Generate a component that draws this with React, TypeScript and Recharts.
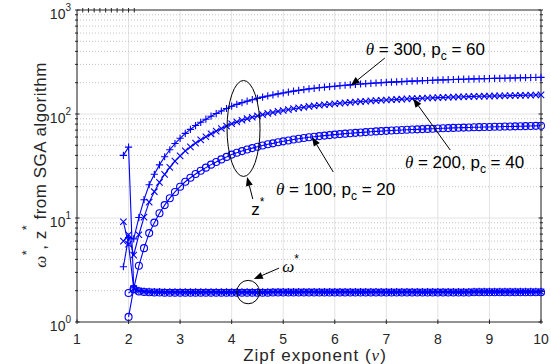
import React from "react";
import { LineChart, Line, XAxis, YAxis, CartesianGrid, ReferenceLine } from "recharts";

// Zipf exponent grid (nu)
const NU = [
  1.9, 2.0, 2.1, 2.2, 2.3, 2.4, 2.5, 2.6, 2.7, 2.8, 2.9,
  3.0, 3.1, 3.2, 3.3, 3.4, 3.5, 3.6, 3.7, 3.8, 3.9,
  4.0, 4.1, 4.2, 4.3, 4.4, 4.5, 4.6, 4.7, 4.8, 4.9,
  5.0, 5.1, 5.2, 5.3, 5.4, 5.5, 5.6, 5.7, 5.8, 5.9,
  6.0, 6.1, 6.2, 6.3, 6.4, 6.5, 6.6, 6.7, 6.8, 6.9,
  7.0, 7.1, 7.2, 7.3, 7.4, 7.5, 7.6, 7.7, 7.8, 7.9,
  8.0, 8.1, 8.2, 8.3, 8.4, 8.5, 8.6, 8.7, 8.8, 8.9,
  9.0, 9.1, 9.2, 9.3, 9.4, 9.5, 9.6, 9.7, 9.8, 9.9, 10.0,
];

// z* for theta = 100, p_c = 20 (circles)
const Z100 = [
  null, 1.12, 2.09, 3.47, 5.13, 7.16, 9.02, 11.1, 13.3, 15.5, 17.8,
  20.0, 22.3, 24.4, 26.5, 28.5, 30.5, 32.6, 34.6, 36.6, 38.7,
  40.7, 42.4, 44.0, 45.5, 47.0, 48.4, 49.8, 51.1, 52.2, 53.5,
  54.6, 55.7, 56.8, 57.8, 58.7, 59.7, 60.5, 61.3, 62.0, 62.7,
  63.4, 64.1, 64.7, 65.3, 65.9, 66.5, 67.0, 67.5, 68.0, 68.5,
  68.9, 69.3, 69.7, 70.1, 70.5, 70.9, 71.2, 71.6, 71.9, 72.2,
  72.6, 72.9, 73.2, 73.5, 73.7, 74.0, 74.2, 74.5, 74.7, 74.9,
  75.1, 75.3, 75.5, 75.7, 75.9, 76.1, 76.3, 76.5, 76.7, 76.9, 77.1,
];

// z* for theta = 200, p_c = 40 (x marks)
const Z200 = [
  6.0, 6.9, 4.4, 6.9, 10.2, 14.2, 17.9, 22.0, 26.3, 30.7, 35.2,
  39.6, 44.2, 48.3, 52.5, 56.4, 60.4, 64.5, 68.5, 72.5, 76.6,
  80.6, 84.0, 87.1, 90.1, 93.1, 95.8, 98.6, 101.2, 103.4, 105.9,
  108.1, 110.3, 112.5, 114.4, 116.2, 118.2, 119.8, 121.4, 122.8, 124.1,
  125.5, 126.9, 128.1, 129.3, 130.5, 131.7, 132.7, 133.7, 134.6, 135.6,
  136.4, 137.2, 138.0, 138.8, 139.6, 140.4, 141.0, 141.8, 142.4, 143.0,
  143.7, 144.3, 144.9, 145.5, 145.9, 146.5, 146.9, 147.5, 147.9, 148.3,
  148.7, 149.1, 149.5, 149.9, 150.3, 150.7, 151.1, 151.5, 151.9, 152.3, 152.7,
];

// z* for theta = 300, p_c = 60 (plus marks)
const Z300 = [
  3.4, 6.5, 6.3, 10.1, 15.0, 20.9, 26.3, 32.4, 38.8, 45.3, 52.0,
  58.4, 65.1, 71.2, 77.4, 83.2, 89.1, 95.2, 101.0, 106.9, 113.0,
  118.8, 123.8, 128.5, 132.9, 137.2, 141.3, 145.4, 149.2, 152.4, 156.2,
  159.4, 162.6, 165.9, 168.8, 171.4, 174.3, 176.7, 179.0, 181.0, 183.1,
  185.1, 187.2, 188.9, 190.7, 192.4, 194.2, 195.6, 197.1, 198.6, 200.0,
  201.2, 202.4, 203.5, 204.7, 205.9, 207.0, 207.9, 209.1, 209.9, 210.8,
  212.0, 212.9, 213.7, 214.6, 215.2, 216.1, 216.7, 217.5, 218.1, 218.7,
  219.3, 219.9, 220.5, 221.0, 221.6, 222.2, 222.8, 223.4, 224.0, 224.5, 225.1,
];

// omega* for the three settings
const W100 = [
  null, 1.90, 2.06, 1.97, 1.94, 1.93, 1.92, 1.92, 1.91, 1.91, 1.91,
  1.91, 1.91, 1.91, 1.91, 1.91, 1.91, 1.91, 1.91, 1.91, 1.91,
  1.91, 1.91, 1.91, 1.91, 1.91, 1.91, 1.91, 1.91, 1.92, 1.92,
  1.92, 1.92, 1.92, 1.92, 1.92, 1.92, 1.92, 1.92, 1.92, 1.92,
  1.92, 1.92, 1.92, 1.92, 1.92, 1.92, 1.92, 1.92, 1.92, 1.92,
  1.92, 1.92, 1.92, 1.92, 1.92, 1.92, 1.92, 1.92, 1.92, 1.92,
  1.92, 1.92, 1.92, 1.92, 1.92, 1.92, 1.92, 1.93, 1.93, 1.93,
  1.93, 1.93, 1.93, 1.93, 1.93, 1.93, 1.93, 1.93, 1.93, 1.93, 1.93,
];
const W200 = [
  9.2, 5.6, 2.10, 1.99, 1.96, 1.95, 1.94, 1.94, 1.93, 1.93, 1.93,
  1.93, 1.93, 1.93, 1.93, 1.93, 1.93, 1.93, 1.93, 1.93, 1.93,
  1.93, 1.93, 1.93, 1.93, 1.93, 1.93, 1.93, 1.93, 1.94, 1.94,
  1.94, 1.94, 1.94, 1.94, 1.94, 1.94, 1.94, 1.94, 1.94, 1.94,
  1.94, 1.94, 1.94, 1.94, 1.94, 1.94, 1.94, 1.94, 1.94, 1.94,
  1.94, 1.94, 1.94, 1.94, 1.94, 1.94, 1.94, 1.94, 1.94, 1.94,
  1.94, 1.94, 1.94, 1.94, 1.94, 1.94, 1.94, 1.95, 1.95, 1.95,
  1.95, 1.95, 1.95, 1.95, 1.95, 1.95, 1.95, 1.95, 1.95, 1.95, 1.95,
];
const W300 = [
  40, 48, 2.12, 2.01, 1.98, 1.97, 1.96, 1.96, 1.95, 1.95, 1.95,
  1.95, 1.95, 1.95, 1.95, 1.95, 1.95, 1.95, 1.95, 1.95, 1.95,
  1.95, 1.95, 1.95, 1.95, 1.95, 1.95, 1.95, 1.95, 1.96, 1.96,
  1.96, 1.96, 1.96, 1.96, 1.96, 1.96, 1.96, 1.96, 1.96, 1.96,
  1.96, 1.96, 1.96, 1.96, 1.96, 1.96, 1.96, 1.96, 1.96, 1.96,
  1.96, 1.96, 1.96, 1.96, 1.96, 1.96, 1.96, 1.96, 1.96, 1.96,
  1.96, 1.96, 1.96, 1.96, 1.96, 1.96, 1.96, 1.97, 1.97, 1.97,
  1.97, 1.97, 1.97, 1.97, 1.97, 1.97, 1.97, 1.97, 1.97, 1.97, 1.97,
];

const X_TICKS = [1, 2, 3, 4, 5, 6, 7, 8, 9, 10];
const Y_MAJOR = [1, 10, 100, 1000];
const Y_MINOR = [2, 3, 4, 5, 6, 7, 8, 9, 20, 30, 40, 50, 60, 70, 80, 90, 200, 300, 400, 500, 600, 700, 800, 900];
const Y_TICKS = [...Y_MAJOR, ...Y_MINOR].sort((a, b) => a - b);

const rows = NU.map((nu, i) => ({
  nu,
  z100: Z100[i],
  z200: Z200[i],
  z300: Z300[i],
  w100: W100[i],
  w200: W200[i],
  w300: W300[i],
}));

// the chart covers the whole window (placed absolutely at the page corner)
const W = 551;
const H = 364;
const PL = 77;
const PR = 541;
const PT = 10;
const PB = 322;
const BLUE = "#0000ff";
const AXIS = "#262626";
const FONT = "'Liberation Sans', Arial, sans-serif";
const SERIF = "'Liberation Serif', 'DejaVu Serif', serif";

// data -> pixel, for annotations only
const sx = (nu: number) => PL + ((nu - 1) / 9) * (PR - PL);
const sy = (v: number) => PB - (Math.log10(v) / 3) * (PB - PT);

const plusDot = (p: any) => {
  const { cx, cy, index } = p;
  if (cx == null || cy == null || isNaN(cy)) return <g key={`p${index}`} />;
  const s = 3.6;
  return (
    <path key={`p${index}`} d={`M${cx - s},${cy}H${cx + s}M${cx},${cy - s}V${cy + s}`} stroke={BLUE} strokeWidth={1.1} fill="none" />
  );
};
const crossDot = (p: any) => {
  const { cx, cy, index } = p;
  if (cx == null || cy == null || isNaN(cy)) return <g key={`x${index}`} />;
  const s = 3.2;
  return (
    <path key={`x${index}`} d={`M${cx - s},${cy - s}L${cx + s},${cy + s}M${cx - s},${cy + s}L${cx + s},${cy - s}`} stroke={BLUE} strokeWidth={1.1} fill="none" />
  );
};
const circleDot = (p: any) => {
  const { cx, cy, index } = p;
  if (cx == null || cy == null || isNaN(cy)) return <g key={`o${index}`} />;
  return <circle key={`o${index}`} cx={cx} cy={cy} r={3.5} stroke={BLUE} strokeWidth={1.1} fill="none" />;
};

const BottomTick = ({ x, y, payload }: any) => (
  <g>
    <line x1={x} x2={x} y1={y} y2={y - 4.5} stroke={AXIS} />
    <text x={x} y={y + 19.5} textAnchor="middle" fontSize={14} fill={AXIS} fontFamily={FONT}>
      {payload.value}
    </text>
  </g>
);
const TopTick = ({ x, y }: any) => <line x1={x} x2={x} y1={y} y2={y + 4.5} stroke={AXIS} />;
const LeftTick = ({ x, y, payload }: any) => {
  const v = payload.value;
  const major = Y_MAJOR.includes(v);
  return (
    <g>
      <line x1={x} x2={x + (major ? 4.5 : 3)} y1={y} y2={y} stroke={AXIS} />
      {major && (
        <text x={x - 4} y={y + 9} textAnchor="end" fontSize={14} fill={AXIS} fontFamily={FONT}>
          10
          <tspan dy={-8} fontSize={10}>
            {Math.round(Math.log10(v))}
          </tspan>
        </text>
      )}
    </g>
  );
};
const RightTick = ({ x, y, payload }: any) => {
  const major = Y_MAJOR.includes(payload.value);
  return <line x1={x} x2={x - (major ? 4.5 : 3)} y1={y} y2={y} stroke={AXIS} />;
};

function Arrow({ from, to }: { from: [number, number]; to: [number, number] }) {
  const x1 = sx(from[0]);
  const y1 = sy(from[1]);
  const x2 = sx(to[0]);
  const y2 = sy(to[1]);
  const a = Math.atan2(y2 - y1, x2 - x1);
  const L = 9;
  const hw = 3.5;
  const bx = x2 - L * Math.cos(a);
  const by = y2 - L * Math.sin(a);
  const px = -Math.sin(a) * hw;
  const py = Math.cos(a) * hw;
  return (
    <g>
      <line x1={x1} y1={y1} x2={bx} y2={by} stroke="#000" strokeWidth={1} />
      <polygon points={`${x2},${y2} ${bx + px},${by + py} ${bx - px},${by - py}`} fill="#000" />
    </g>
  );
}

function ThetaLabel({ at, theta, pc }: { at: [number, number]; theta: number; pc: number }) {
  return (
    <text x={sx(at[0])} y={sy(at[1])} fontSize={17} fontFamily={FONT} fill="#000">
      <tspan fontFamily={SERIF} fontStyle="italic">θ</tspan>
      {` = ${theta}, p`}
      <tspan dy={5} fontSize={12}>c</tspan>
      <tspan dy={-5}>{` = ${pc}`}</tspan>
    </text>
  );
}

export default function App() {
  return (
    <div style={{ position: "absolute", left: 0, top: 0, width: W, height: H, overflow: "hidden" }}>
      <LineChart width={W} height={H} data={rows} margin={{ top: 9, right: 9, bottom: 0, left: 0 }}>
        <CartesianGrid horizontal={false} stroke="#e3e3e3" />
        {Y_MINOR.map((v) => (
          <ReferenceLine key={`m${v}`} y={v} stroke="#c4c4c4" strokeDasharray="1 2" />
        ))}
        {[10, 100].map((v) => (
          <ReferenceLine key={`M${v}`} y={v} stroke="#e3e3e3" />
        ))}
        <XAxis
          dataKey="nu"
          type="number"
          domain={[1, 10]}
          ticks={X_TICKS}
          interval={0}
          height={42}
          tickSize={0}
          tickLine={false}
          axisLine={{ stroke: AXIS }}
          tick={BottomTick}
        />
        <XAxis
          xAxisId="top"
          orientation="top"
          type="number"
          domain={[1, 10]}
          ticks={X_TICKS}
          interval={0}
          height={1}
          tickSize={0}
          tickLine={false}
          axisLine={{ stroke: AXIS }}
          tick={TopTick}
        />
        <YAxis
          type="number"
          scale="log"
          domain={[1, 1000]}
          allowDataOverflow
          ticks={Y_TICKS}
          interval={0}
          width={77}
          tickSize={0}
          tickLine={false}
          axisLine={{ stroke: AXIS }}
          tick={LeftTick}
        />
        <YAxis
          yAxisId="right"
          orientation="right"
          type="number"
          scale="log"
          domain={[1, 1000]}
          allowDataOverflow
          ticks={Y_TICKS}
          interval={0}
          width={1}
          tickSize={0}
          tickLine={false}
          axisLine={{ stroke: AXIS }}
          tick={RightTick}
        />
        <Line dataKey="z100" stroke={BLUE} strokeWidth={1.1} dot={circleDot} isAnimationActive={false} />
        <Line dataKey="z200" stroke={BLUE} strokeWidth={1.1} dot={crossDot} isAnimationActive={false} />
        <Line dataKey="z300" stroke={BLUE} strokeWidth={1.1} dot={plusDot} isAnimationActive={false} />
        <Line dataKey="w100" stroke={BLUE} strokeWidth={1.1} dot={circleDot} isAnimationActive={false} />
        <Line dataKey="w200" stroke={BLUE} strokeWidth={1.1} dot={crossDot} isAnimationActive={false} />
        <Line dataKey="w300" stroke={BLUE} strokeWidth={1.1} dot={plusDot} isAnimationActive={false} />
      </LineChart>
      <svg width={W} height={H} style={{ position: "absolute", left: 0, top: 0, pointerEvents: "none" }}>
        {/* axis labels */}
        <text x={315} y={360.5} textAnchor="middle" fontSize={17} letterSpacing={1} fontFamily={FONT} fill={AXIS}>
          Zipf exponent (<tspan fontFamily={SERIF} fontStyle="italic">ν</tspan>)
        </text>
        <text
          x={46}
          y={165}
          transform="rotate(-90 46 165)"
          textAnchor="middle"
          fontSize={17}
          letterSpacing={0.5}
          fontFamily={FONT}
          fill={AXIS}
        >
          <tspan fontFamily={SERIF} fontStyle="italic">ω</tspan>
          <tspan dy={-15} fontSize={13}>*</tspan>
          <tspan dy={15}>, z</tspan>
          <tspan dy={-15} fontSize={13}>*</tspan>
          <tspan dy={15}> from SGA algorithm</tspan>
        </text>

        {/* theta annotations */}
        <ThetaLabel at={[6.6, 370]} theta={300} pc={60} />
        <Arrow from={[6.97, 345]} to={[6.31, 188]} />
        <ThetaLabel at={[7.36, 30.3]} theta={200} pc={40} />
        <Arrow from={[8.24, 45]} to={[7.52, 141]} />
        <ThetaLabel at={[4.86, 16.6]} theta={100} pc={20} />
        <Arrow from={[5.97, 27.7]} to={[5.56, 60]} />

        {/* z* group */}
        <ellipse cx={sx(4.23)} cy={sy(72.6)} rx={16.5} ry={48} fill="none" stroke="#000" strokeWidth={1} />
        <Arrow from={[4.41, 15.2]} to={[4.3, 24.8]} />
        <text x={sx(4.38)} y={sy(10.7)} fontSize={17} fontFamily={FONT} fill="#000">
          z<tspan dy={-9} fontSize={12}>*</tspan>
        </text>

        {/* omega* group */}
        <ellipse cx={sx(4.32)} cy={sy(1.94)} rx={11.3} ry={11.7} fill="none" stroke="#000" strokeWidth={1} />
        <Arrow from={[4.92, 3.3]} to={[4.43, 2.59]} />
        <text x={sx(4.98)} y={sy(3.03)} fontSize={17} fontFamily={SERIF} fontStyle="italic" fill="#000">
          ω<tspan dy={-9} fontSize={12} fontStyle="normal" fontFamily={FONT}>*</tspan>
        </text>
      </svg>
    </div>
  );
}
